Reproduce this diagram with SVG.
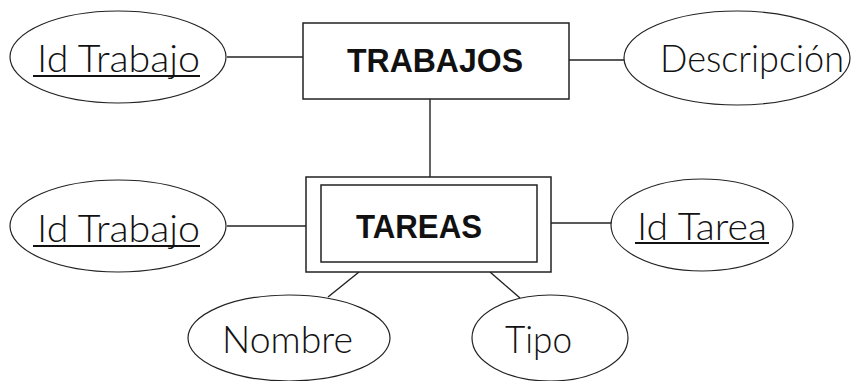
<svg xmlns="http://www.w3.org/2000/svg" width="853" height="381" viewBox="0 0 853 381">
<style>
.ent{fill:#fff;stroke:#222;stroke-width:1.5}
.att{fill:#fff;stroke:#222;stroke-width:1.2}
.lnk{stroke:#222;stroke-width:1.4;fill:none}
.t{font-family:Lato,"Open Sans","Liberation Sans",sans-serif;font-weight:300;font-size:38px;fill:#111}
.b{font-family:"Liberation Sans",Arial,sans-serif;font-weight:bold;font-size:34px;fill:#111}
.u{stroke:#111;stroke-width:2.2}
</style>
<rect width="853" height="381" fill="#fff"/>
<g id="connectors">
<line class="lnk" x1="227" y1="57" x2="303" y2="57"/>
<line class="lnk" x1="569" y1="60" x2="624" y2="60"/>
<line class="lnk" x1="430" y1="99" x2="430" y2="177"/>
<line class="lnk" x1="227" y1="226" x2="306" y2="226"/>
<line class="lnk" x1="551" y1="223" x2="612" y2="223"/>
<line class="lnk" x1="359" y1="272" x2="328" y2="297"/>
<line class="lnk" x1="490" y1="272" x2="520" y2="298"/>
</g>
<g id="trabajos">
<rect class="ent" x="303" y="23" width="266" height="76"/>
<text class="b" x="347" y="72" textLength="176" lengthAdjust="spacingAndGlyphs">TRABAJOS</text>
</g>
<g id="tareas">
<rect class="ent" x="306" y="177" width="245" height="95"/>
<rect class="ent" x="321" y="185" width="216" height="77"/>
<text class="b" x="356" y="238" textLength="126" lengthAdjust="spacingAndGlyphs">TAREAS</text>
</g>
<g id="attr-idtrabajo-1">
<ellipse class="att" cx="118" cy="57" rx="108" ry="46"/>
<text class="t" x="37" y="72" textLength="163" lengthAdjust="spacingAndGlyphs">Id Trabajo</text>
<line class="u" x1="33" y1="76" x2="200" y2="76"/>
</g>
<g id="attr-descripcion">
<ellipse class="att" cx="737" cy="58" rx="113" ry="47"/>
<text class="t" x="660" y="72" textLength="184" lengthAdjust="spacingAndGlyphs">Descripción</text>
</g>
<g id="attr-idtrabajo-2">
<ellipse class="att" cx="118" cy="226" rx="108" ry="46"/>
<text class="t" x="37" y="242" textLength="163" lengthAdjust="spacingAndGlyphs">Id Trabajo</text>
<line class="u" x1="33" y1="246" x2="200" y2="246"/>
</g>
<g id="attr-idtarea">
<ellipse class="att" cx="702" cy="225" rx="91" ry="46"/>
<text class="t" x="637" y="240" textLength="130" lengthAdjust="spacingAndGlyphs">Id Tarea</text>
<line class="u" x1="635" y1="243" x2="769" y2="243"/>
</g>
<g id="attr-nombre">
<ellipse class="att" cx="289" cy="338" rx="101" ry="43"/>
<text class="t" x="222" y="353" textLength="131" lengthAdjust="spacingAndGlyphs">Nombre</text>
</g>
<g id="attr-tipo">
<ellipse class="att" cx="550" cy="338" rx="78" ry="43"/>
<text class="t" x="505" y="353" textLength="67" lengthAdjust="spacingAndGlyphs">Tipo</text>
</g>
</svg>
